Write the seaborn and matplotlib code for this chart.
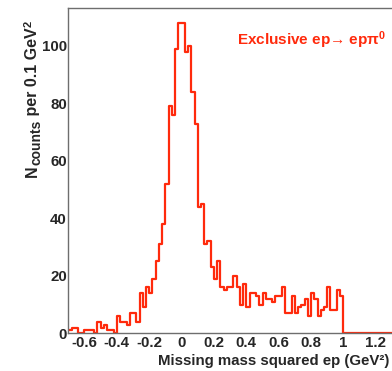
import numpy as np
import pandas as pd
import seaborn as sns
import matplotlib
matplotlib.use("Agg")
import matplotlib.pyplot as plt
from matplotlib.ticker import MultipleLocator

# Histogram binning (GeV^2): 0.02 wide bins from -0.7 to 1.3
bin_lo = -0.7
bin_hi = 1.3
bin_width = 0.02

# Counts per bin, starting at -0.7
counts = [
    1, 2, 2, 0, 0, 1, 1, 1, 0, 4,
    2, 3, 1, 1, 0, 6, 4, 4, 3, 7,
    7, 4, 14, 9, 16, 14, 19, 25, 31, 38,
    52, 79, 76, 99, 108, 108, 98, 100, 84, 73,
    44, 45, 31, 32, 23, 19, 25, 16, 15, 16,
    16, 20, 16, 10, 17, 9, 14, 14, 13, 10,
    14, 12, 12, 11, 13, 13, 16, 7, 7, 13,
    7, 9, 10, 12, 6, 14, 12, 6, 8, 9,
    16, 8, 8, 15, 13,
    0, 0, 0, 0, 0, 0, 0, 0, 0, 0, 0, 0, 0, 0, 0,
]

x_ticks = [-0.6, -0.4, -0.2, 0, 0.2, 0.4, 0.6, 0.8, 1, 1.2]
x_ticklabels = ["-0.6", "-0.4", "-0.2", "0", "0.2", "0.4", "0.6", "0.8", "1", "1.2"]
y_ticks = [0, 20, 40, 60, 80, 100]

centers = bin_lo + bin_width * (np.arange(len(counts)) + 0.5)
df = pd.DataFrame({"mm2": centers, "n": counts})

sns.set_style("white")
plt.rcParams["font.family"] = ["Liberation Sans", "DejaVu Sans"]
plt.rcParams["mathtext.fontset"] = "custom"
plt.rcParams["mathtext.rm"] = "Liberation Sans:bold"
plt.rcParams["mathtext.bf"] = "Liberation Sans:bold"
plt.rcParams["mathtext.it"] = "Liberation Sans:bold"

W, H = 392, 371
fig = plt.figure(figsize=(W / 100, H / 100), dpi=100)
ax = fig.add_axes([68.3 / W, (H - 333.3) / H, (392.0 - 68.3) / W, (333.3 - 8.0) / H])

line_color = "#ff2a0c"
sns.histplot(data=df, x="mm2", weights="n", binwidth=bin_width,
             binrange=(bin_lo, bin_hi), element="step",
             fill=False, color=line_color, linewidth=1.6, ax=ax)

ax.set_xlim(bin_lo, bin_hi)
ax.set_ylim(0, 113.2)

ax.set_xticks(x_ticks)
ax.set_xticklabels(x_ticklabels)
ax.set_yticks(y_ticks)
ax.xaxis.set_minor_locator(MultipleLocator(0.05))
ax.yaxis.set_minor_locator(MultipleLocator(5))

spine_color = "#6e6e6e"
for side in ["left", "bottom", "top"]:
    ax.spines[side].set_color(spine_color)
    ax.spines[side].set_linewidth(1.0)
ax.spines["right"].set_visible(False)

ax.tick_params(axis="both", which="major", direction="in", length=7.2, width=1.0,
               color="#8a8a8a", labelsize=10.8, top=False, right=False)
ax.tick_params(axis="both", which="minor", direction="in", length=3.6, width=1.0,
               color="#8a8a8a", top=False, right=False)
ax.tick_params(axis="x", which="major", pad=2.0)
ax.tick_params(axis="y", which="major", pad=1.0)
for lab in ax.get_xticklabels() + ax.get_yticklabels():
    lab.set_fontweight("bold")

ax.set_xlabel("")
ax.set_ylabel("")
fig.text(389.0 / W, 1 - 364.5 / H, "Missing mass squared ep (GeV\u00b2)",
         ha="right", va="baseline", fontsize=10.8, fontweight="bold")

# Vertical axis title built from pieces so the subscript keeps its size
renderer = fig.canvas.get_renderer()


def vertical_piece(x_base, y_start, s, size):
    t = fig.text(x_base / W, 1 - y_start / H, s, rotation=90,
                 rotation_mode="anchor", ha="left", va="baseline",
                 fontsize=size, fontweight="bold")
    return t.get_window_extent(renderer).height


y_cursor = 177.0
y_cursor -= vertical_piece(37.0, y_cursor, "N", 11.5)
y_cursor -= vertical_piece(40.5, y_cursor, "counts", 10.0)
y_cursor -= vertical_piece(37.0, y_cursor, " per 0.1 GeV", 11.5)
vertical_piece(31.5, y_cursor, "2", 8.0)

ax.text(0.521, 0.902, "Exclusive ep\u2192 ep\u03c0$^{0}$", transform=ax.transAxes,
        ha="left", va="center", fontsize=11, fontweight="bold", color=line_color)

fig.savefig("out.png", dpi=100)
